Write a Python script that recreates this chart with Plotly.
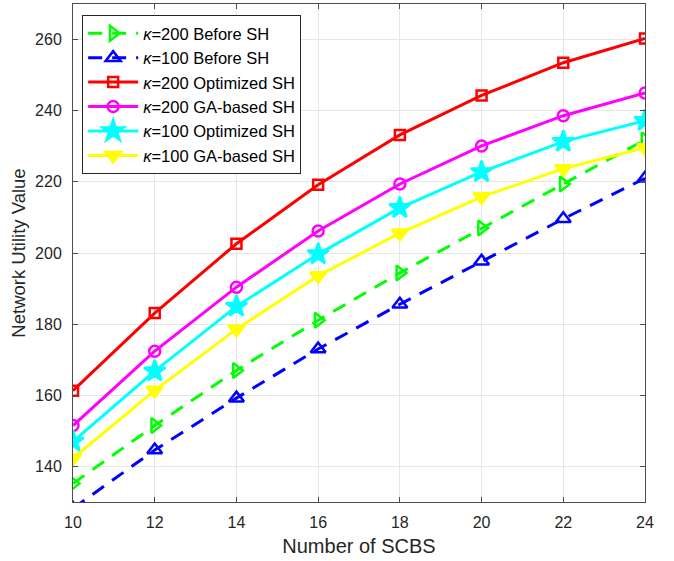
import plotly.graph_objects as go

x_scbs = [10, 12, 14, 16, 18, 20, 22, 24]
k200_before = [135.2, 151.5, 167.0, 181.1, 194.4, 207.0, 219.4, 231.8]
k100_before = [128.2, 144.6, 159.2, 173.0, 185.6, 197.7, 209.6, 221.0]
k200_opt = [161.3, 183.1, 202.6, 219.2, 233.2, 244.3, 253.5, 260.3]
k200_ga = [151.5, 172.4, 190.4, 206.2, 219.4, 230.1, 238.6, 245.0]
k100_opt = [147.0, 166.8, 185.0, 199.7, 212.7, 222.8, 231.3, 237.2]
k100_ga = [142.3, 161.4, 178.6, 193.6, 205.6, 215.8, 223.7, 229.6]

series = [
    ("<i>\u03ba</i>=200 Before SH", k200_before, "#00ff00", "dash", "triangle-right-open", 13),
    ("<i>\u03ba</i>=100 Before SH", k100_before, "#0000ff", "dash", "triangle-up-open", 13),
    ("<i>\u03ba</i>=200 Optimized SH", k200_opt, "#ff0000", "solid", "square-open", 10),
    ("<i>\u03ba</i>=200 GA-based SH", k200_ga, "#ff00ff", "solid", "circle-open", 11),
    ("<i>\u03ba</i>=100 Optimized SH", k100_opt, "#00ffff", "solid", "star", 16),
    ("<i>\u03ba</i>=100 GA-based SH", k100_ga, "#ffff00", "solid", "triangle-down", 14),
]

fig = go.Figure()
for name, ys, col, dash, sym, sz in series:
    fig.add_trace(go.Scatter(
        x=x_scbs, y=ys, name=name, mode="lines+markers",
        line=dict(color=col, width=3, dash="solid" if dash == "solid" else "14px,10px"),
        marker=dict(symbol=sym, size=sz, color=col,
                    line=dict(color=col, width=2.5)),
        cliponaxis=True,
    ))

axis_common = dict(
    showgrid=True, gridcolor="#e6e6e6", gridwidth=1,
    showline=True, linecolor="#4d4d4d", linewidth=1, mirror="allticks",
    ticks="inside", ticklen=5, tickcolor="#4d4d4d",
    tickfont=dict(family="Liberation Sans, Arial", size=16, color="#262626"),
    zeroline=False, automargin=False,
)

fig.update_layout(
    width=674, height=561,
    margin=dict(l=73, r=29, t=4, b=59),
    paper_bgcolor="white", plot_bgcolor="white",
    font=dict(family="Liberation Sans, Arial", color="#262626"),
    xaxis=dict(range=[10, 24], tickvals=x_scbs, ticklabelstandoff=6,
               title=dict(text="Number of SCBS", font=dict(size=20), standoff=8),
               **axis_common),
    yaxis=dict(range=[130, 270], tickvals=[140, 160, 180, 200, 220, 240, 260],
               ticklabelstandoff=7,
               title=dict(text="Network Utility Value", font=dict(size=18.5), standoff=4),
               **axis_common),
    legend=dict(x=0.016, y=0.978, xanchor="left", yanchor="top",
                bgcolor="white", bordercolor="#262626", borderwidth=1,
                font=dict(size=16.5, color="#000000"),
                tracegroupgap=0, itemwidth=50),
    showlegend=True,
)

fig.write_html("out.html", config={"displayModeBar": False},
               post_script="document.body.style.margin='0';document.body.style.overflow='hidden';")
